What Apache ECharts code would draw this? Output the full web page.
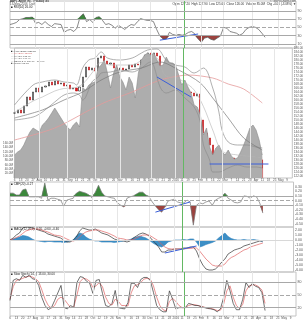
<!DOCTYPE html>
<html>
<head>
<meta charset="utf-8">
<script src="https://cdn.jsdelivr.net/npm/echarts@6/dist/echarts.min.js"></script>
<style>
html, body { margin: 0; padding: 0; background: #fff; }
#chart { width: 306px; height: 320px; }
</style>
</head>
<body>
<div id="chart"></div>
<script>
// one value per bar, bar 0 is the first day on the chart
var closes = [153.5,155,153.5,157,161.5,160,164,166,164,166.5,
  167,169,167.5,169.5,168,168.5,167,167.5,165.5,166,
  164.5,166.5,171.5,176.5,175,176,174.5,181,182,179.5,
  178,178.5,176,175,176,175,175.5,177.5,176.5,178,
  177.5,180,182.5,183.5,182,183.5,182,173.5,171,172,
  169,170.5,168,166.5,167,165,164,163.5,162,163,
  150,143.5,141,137.5,131,128.5,130,131,132.5,130,
  131,129.5,128.5,129.5,131,132,131,131.5,130.5,130,
  126];
var mountain = [132.5,134,135,137.5,141,144,146,145,144,147.5,
  149,151,153.5,156,153.5,151,148.5,146.5,145,147.5,
  149,146.5,166,165,167.5,168.5,169,176,177.5,180,
  173.5,166,173.5,177.5,171.5,169,165,171.5,168.5,161,
  173.5,180,182.5,183.5,182.5,183.5,180,177,177.5,181.5,
  178.5,178.5,177.5,172.5,167.5,170,166.5,163.5,157.5,156.5,
  152.5,142.5,146,136.5,132.5,136,137.5,134,132.5,135,
  132,130.5,131,134,137.5,141.5,146,147.5,145,140,
  132.5];
var volumes = [40,35,30,45,60,35,30,38,45,75,
  40,35,30,28,35,38,42,55,40,35,
  38,45,60,50,35,30,32,50,45,38,
  40,35,30,45,50,48,55,35,30,32,
  38,40,35,30,45,50,85,90,60,45,
  35,38,42,40,35,38,32,30,55,45,
  95,80,70,75,65,55,45,40,38,42,
  40,45,38,35,30,28,32,30,40,45,
  85];
var rsi = [57,59,62,69,71,74,74,75,60,62,
  57,64,57,52,59,58,57,38,43,45,
  40,48,76,83,64,69,62,74,76,67,
  57,59,55,48,55,50,45,52,57,55,
  64,71,69,67,67,64,45,29,22,22,
  38,33,31,33,31,33,38,40,34,22,
  14,24,26,21,19,24,29,50,48,40,
  38,36,31,35,45,50,52,50,45,36,
  26];
var cmf = [0.16,0.16,0.12,0.12,0.23,0.25,0.08,0.08,0.08,0.08,
  0.05,0.38,0.01,0.05,0.05,0.03,0.01,-0.12,0.01,0.03,
  0.05,0.16,0.2,0.18,0.16,0.12,0.05,0.18,0.33,0.18,
  0.1,0.08,0.06,0.05,-0.05,-0.1,-0.14,0.05,0.08,0.1,
  0.14,0.18,0.18,0.12,0.08,-0.03,-0.12,-0.2,-0.25,-0.14,
  -0.01,0.01,0.03,-0.03,-0.05,-0.05,0.01,-0.03,-0.53,-0.1,
  -0.05,-0.07,-0.03,-0.01,-0.1,0.01,0.05,0.08,0.16,0.05,
  0.01,-0.04,-0.05,-0.03,0.1,0.09,0.05,0.1,0.08,-0.05,
  -0.27];
var macd = [0,0.4,1.0,1.4,2.4,2.6,2.6,2.4,2.2,2.0,
  1.8,1.6,1.2,1.0,0.8,0.6,0.4,0,-0.4,-0.4,
  0,0.6,1.8,2.4,2.2,2.0,2.0,2.2,1.8,1.4,
  1.2,1.0,0.6,0.2,0,-0.1,-0.2,-0.4,-0.2,0.4,
  0.8,1.2,1.4,1.2,0.8,0,-0.6,-1.4,-2.4,-2.4,
  -2.0,-2.0,-1.8,-1.8,-1.8,-1.6,-1.6,-1.4,-1.4,-2.2,
  -3.8,-5.0,-5.8,-6.0,-6.0,-5.8,-5.2,-4.4,-3.8,-2.8,
  -2.4,-2.0,-1.8,-1.6,-1.2,-1.0,-0.8,-0.6,-0.4,-0.2,
  -0.2];
var signal = [0,0.2,0.5,0.8,1.3,1.8,2.0,2.2,2.2,2.2,
  2.0,1.8,1.6,1.3,1.0,0.9,0.8,0.5,0.2,-0.1,
  -0.2,0,0.6,1.2,1.6,1.8,1.9,2.0,2.0,1.8,
  1.6,1.4,1.1,0.8,0.4,0.3,0.2,0,0,0.1,
  0.4,0.7,1.0,1.0,1.0,0.6,0.2,-0.2,-0.9,-1.4,
  -1.7,-1.8,-1.8,-1.8,-1.8,-1.8,-1.7,-1.7,-1.6,-1.6,
  -2.2,-3.0,-3.8,-4.4,-5.0,-5.2,-5.2,-5.2,-4.8,-4.0,
  -3.5,-3.2,-2.8,-2.4,-2.0,-1.8,-1.4,-1.2,-1.0,-0.8,
  -0.6];
var hist = [0,0.2,0.4,0.6,0.9,0.8,0.6,0.2,-0.1,-0.2,
  -0.3,-0.4,-0.3,-0.3,-0.4,-0.4,-0.4,-0.5,-0.4,-0.2,
  0,0.8,1.4,1.2,0.6,0.2,0,-0.2,-0.2,-0.4,
  -0.4,-0.4,-0.4,-0.5,-0.4,-0.3,-0.2,-0.1,0.1,0.4,
  0.6,0.8,0.6,0.4,0,-0.5,-0.9,-1.2,-1.4,-1.0,
  -0.4,-0.2,0,0,0,0.1,0,0.2,0.2,-0.4,
  -1.4,-1.2,-0.9,-0.7,-0.5,-0.2,0.4,0.9,1.4,0.7,
  0.3,0.1,0,0,0.1,0,0,0.1,0,-0.1,
  -0.4];
var stochK = [37,85,89,85,97,92,97,89,87,73,
  44,25,15,20,37,55,73,20,17,25,
  20,80,94,92,83,78,54,85,87,54,
  25,22,30,61,20,18,17,32,78,78,
  68,87,92,92,85,56,25,15,10,10,
  60,40,17,20,20,20,30,28,25,25,
  22,20,18,17,15,10,17,44,85,60,
  30,15,15,40,80,68,78,71,68,56,
  13];
var stochD = [40,70,85,87,90,93,95,93,89,82,
  62,40,25,19,25,40,45,40,30,20,
  21,50,82,90,88,83,68,72,80,70,
  45,30,26,40,35,25,25,24,55,72,
  75,80,88,90,88,72,45,25,15,12,
  35,42,35,25,20,20,25,27,27,25,
  23,21,19,18,16,13,14,28,60,72,
  45,25,18,28,60,72,74,74,70,62,
  30];

// overlays read at a few days only: [day, value]
var bbUpper = [[0,157.5],[6,167.5],[9,169],[13,170],[16,169],[19,168.5],[20,167.5],[22,176],[24,180],[26,181],[28,184],[30,181],[34,180],[38,181],[41,183.5],[43,185],[46,185.5],[49,180],[52,177.5],[55,176.5],[58,173.5],[61,176],[64,166],[66,154],[67,145],[69,139],[72,137.5],[75,137.5],[78,136.5],[80,136]];
var bbLower = [[0,150],[6,151.5],[9,154],[13,159],[16,162.5],[19,163.5],[21,162.5],[22,160],[23,161.5],[25,169],[27,171.5],[28,173.5],[31,174],[34,175],[38,174],[41,176],[44,179],[45,177],[47,166.5],[49,163.5],[52,165],[55,161],[58,156.5],[60,149],[61,137.5],[63,130],[64,124],[66,124],[69,126],[72,127.5],[75,126.5],[78,126.5],[80,126]];
var ma20 = [[0,153.75],[6,159.5],[9,161.5],[13,164.5],[16,165.75],[19,166],[22,168],[25,173.5],[28,178.75],[31,177.5],[34,177.5],[38,177.5],[41,179.75],[44,181.5],[46,181],[49,171.75],[52,171.25],[55,168.75],[58,165],[61,156.75],[64,145],[67,134.5],[72,132.5],[75,132],[78,131.5],[80,131]];
var ma50 = [[0,151],[9,155],[16,160],[22,164],[28,170],[34,174],[41,176],[47,179],[53,175],[60,168.5],[64,161],[69,151],[74,141],[80,135]];
var ma200 = [[0,140],[13,146],[28,158],[38,164],[47,170],[53,172],[56,172.5],[64,171],[69,168],[74,165.5],[80,158.5]];

// hand drawn trend lines
var priceTrend = [[46,171.5],[57,161.5]];
var priceSupport = [[63,128],[82,128]];
var rsiTrend = [[47,19],[59,34]];
var cmfTrend = [[46,-0.25],[57,-0.03]];
var macdTrend = [[49,-2.6],[59,-1.2]];

var tickDays = [0,2,4,6,8,10,12,14,16,18,20,22,24,26,28,30,32,34,36,38,40,42,44,46,48,50,52,54,56,58,60,62,64,66,68,70,72,74,76,78,80,82,84,86,88];
var tickLabels = ["6","13","20","27","Aug","10","17","24","31","Sep","14","21","28","Oct","12","19","26","Nov","9","16","23","30","Dec","14","21","28","2016","11","19","25","Feb","8","16","22","Mar","7","14","21","28","Apr","11","18","25","May","9"];
var monthDays = [8, 17, 26, 34, 44, 52, 60, 67, 76, 84];
var markDay = 54.6;

var priceTicks = [122,124,126,128,130,132,134,136,138,140,142,144,146,148,150,152,154,156,158,160,162,164,166,168,170,172,174,176,178,180,182,184,186];
var volTicks = [20,40,60,80,100,120,140,160];
var rsiTicks = [10,30,50,70,90];
var cmfTicks = [-0.5,-0.4,-0.3,-0.2,-0.1,0,0.1,0.2,0.3];
var macdTicks = [-6,-5,-4,-3,-2,-1,0,1,2];
var stochTicks = [20,50,80];

var FONT = 'Liberation Sans';
var chart = echarts.init(document.getElementById('chart'));

function pts(arr) {
  return arr.map(function (v, i) { return [i, v]; });
}
function last(arr) { return arr[arr.length - 1]; }

var candles = closes.map(function (c, i) {
  var o = i ? closes[i - 1] : c;
  return [i, o, c, Math.min(o, c), Math.max(o, c)];
});

function vlines() {
  var d = monthDays.map(function (m) {
    return { xAxis: m, lineStyle: { color: '#e6e6e6', width: 1, type: 'solid' } };
  });
  d.push({ xAxis: markDay, lineStyle: { color: '#63b863', width: 1, type: 'solid' } });
  return d;
}
function hline(v, dashed, color) {
  return { yAxis: v, lineStyle: { color: color || '#a8a8a8', width: 1, type: dashed ? 'dashed' : 'solid' } };
}
function tag(v, color) {
  return {
    yAxis: v, lineStyle: { opacity: 0 },
    label: { show: true, position: 'end', distance: 1, formatter: v.toFixed(2), fontSize: 3.5, fontFamily: FONT,
      color: color, backgroundColor: '#fff', borderColor: color, borderWidth: 0.5, padding: [0, 1] }
  };
}
function marks(data) {
  return { silent: true, symbol: 'none', animation: false, label: { show: false }, data: data };
}
function txt(x, y, s, color, align, size) {
  return { type: 'text', x: x, y: y, silent: true,
    style: { text: s, fill: color || '#333', fontSize: size || 3, fontFamily: FONT, align: align || 'left', verticalAlign: 'top' } };
}

var gridTops = [1, 48, 182, 227, 272];
var gridHeights = [47, 130, 45, 45, 44];
var grids = gridTops.map(function (t, i) {
  return { left: 10, right: 10, top: t, height: gridHeights[i], show: true, borderColor: '#c4c4c4', borderWidth: 1 };
});

var xAxes = grids.map(function (g, i) {
  return {
    type: 'value', gridIndex: i, min: 0, max: 89.7,
    axisLine: { show: false }, axisTick: { show: false }, splitLine: { show: false },
    axisLabel: {
      show: i === 1 || i === 4, customValues: tickDays, margin: 1, fontSize: 3, fontFamily: FONT, color: '#555',
      formatter: function (v) { return tickLabels[Math.round(v / 2)] || ''; }
    }
  };
});

function yAx(grid, min, max, ticks, pos, fmt, size) {
  return {
    type: 'value', gridIndex: grid, min: min, max: max, position: pos || 'right',
    axisLine: { show: false }, axisTick: { show: false }, splitLine: { show: false },
    axisLabel: { customValues: ticks, margin: 1.5, fontSize: size || 3.5, fontFamily: FONT, color: '#555', formatter: fmt }
  };
}

var yAxes = [
  yAx(0, 0, 114, rsiTicks),
  yAx(1, 121, 186, priceTicks, 'right', function (v) { return v.toFixed(2); }, 3),
  yAx(1, 0, 600, volTicks, 'left', function (v) { return v.toFixed(1) + 'M'; }, 3),
  yAx(2, -0.57, 0.4, cmfTicks, 'right', function (v) { return v.toFixed(2); }),
  yAx(3, -6.4, 2.6, macdTicks, 'right', function (v) { return v.toFixed(2); }),
  yAx(4, 0, 105, stochTicks)
];

function line(name, xi, yi, data, color, width, extra) {
  var s = {
    name: name, type: 'line', xAxisIndex: xi, yAxisIndex: yi, data: data,
    symbol: 'none', silent: true, animation: false,
    lineStyle: { color: color, width: width }
  };
  for (var k in extra) s[k] = extra[k];
  return s;
}

var series = [
  // RSI panel
  line('rsiHi', 0, 0, pts(rsi.map(function (v) { return Math.max(v, 70); })), '#3b873b', 0,
    { areaStyle: { color: '#3b873b', origin: 70, opacity: 1 }, lineStyle: { opacity: 0 } }),
  line('rsiLo', 0, 0, pts(rsi.map(function (v) { return Math.min(v, 30); })), '#9c423e', 0,
    { areaStyle: { color: '#9c423e', origin: 30, opacity: 1 }, lineStyle: { opacity: 0 } }),
  line('RSI', 0, 0, pts(rsi), '#555', 0.7, {
    markLine: marks(vlines().concat([hline(10), hline(30), hline(50, true), hline(70), hline(90), tag(last(rsi), '#000')]))
  }),
  line('rsiTrend', 0, 0, rsiTrend, '#3a5fd9', 1),

  // price panel
  line('mountain', 1, 1, pts(mountain), '#8c8c8c', 0.6, {
    areaStyle: { color: '#adadad', origin: 'start', opacity: 1 },
    markLine: marks(vlines().concat([tag(last(closes), '#000'), tag(last(ma200)[1], '#d46a6a')]))
  }),
  {
    name: 'Volume', type: 'bar', xAxisIndex: 1, yAxisIndex: 2, data: pts(volumes), barWidth: 1.6,
    silent: true, animation: false,
    itemStyle: {
      color: function (p) {
        var i = p.dataIndex;
        return i && closes[i] < closes[i - 1] ? '#e07474' : '#8f8f8f';
      }
    }
  },
  line('ma200', 1, 1, ma200, '#e49a9a', 0.8, { smooth: 0.3 }),
  line('bbUpper', 1, 1, bbUpper, '#8e8e8e', 0.7, { smooth: 0.35 }),
  line('bbLower', 1, 1, bbLower, '#8e8e8e', 0.7, { smooth: 0.35 }),
  line('ma20', 1, 1, ma20, '#b4b4b4', 0.6, { smooth: 0.35 }),
  line('ma50', 1, 1, ma50, '#7a7a7a', 0.7, { smooth: 0.3 }),
  {
    name: 'AAPL', type: 'candlestick', xAxisIndex: 1, yAxisIndex: 1, data: candles,
    encode: { x: 0, y: [1, 2, 3, 4] }, barWidth: 1.6, silent: true, animation: false,
    itemStyle: { color: '#fff', color0: '#e3161b', borderColor: '#111', borderColor0: '#b80d10', borderWidth: 0.6 }
  },
  line('priceTrend', 1, 1, priceTrend, '#3a5fd9', 1),
  line('priceSupport', 1, 1, priceSupport, '#3a5fd9', 1),

  // CMF panel
  line('cmfHi', 2, 3, pts(cmf.map(function (v) { return Math.max(v, 0.1); })), '#3b873b', 0,
    { areaStyle: { color: '#3b873b', origin: 0.1, opacity: 1 }, lineStyle: { opacity: 0 } }),
  line('cmfLo', 2, 3, pts(cmf.map(function (v) { return Math.min(v, -0.1); })), '#9c423e', 0,
    { areaStyle: { color: '#9c423e', origin: -0.1, opacity: 1 }, lineStyle: { opacity: 0 } }),
  line('CMF', 2, 3, pts(cmf), '#777', 0.7, {
    markLine: marks(vlines().concat([hline(0.1), hline(0, true), hline(-0.1), tag(last(cmf), '#000')]))
  }),
  line('cmfTrend', 2, 3, cmfTrend, '#3a5fd9', 1),

  // MACD panel
  line('Hist', 3, 4, pts(hist), '#2f7fba', 0.6, {
    areaStyle: { color: '#3d8fc6', origin: 0, opacity: 1 },
    markLine: marks(vlines().concat([hline(0, false, '#d8d8d8'), tag(last(macd), '#000'), tag(last(signal), '#d05a5a')]))
  }),
  line('MACD', 3, 4, pts(macd), '#333', 0.7),
  line('Signal', 3, 4, pts(signal), '#e06262', 0.7),
  line('macdTrend', 3, 4, macdTrend, '#3a5fd9', 1),

  // slow stochastic panel
  line('%D', 4, 5, pts(stochD), '#e06262', 0.7, {
    markLine: marks(vlines().concat([hline(20), hline(50, true), hline(80), tag(last(stochK), '#000'), tag(last(stochD), '#d05a5a')]))
  }),
  line('%K', 4, 5, pts(stochK), '#333', 0.7)
];

var graphic = [
  txt(10, 0, 'AAPL Apple Inc.  Nasdaq GS', '#111'),
  txt(10, 3, '13-May-2016  Daily', '#555'),
  txt(296, 0, '© StockCharts.com', '#555', 'right'),
  txt(296, 3, 'Open 127.20  High 127.90  Low 125.60  Close 126.00  Volume 85.0M  Chg -4.00 (-3.08%) ▼', '#333', 'right'),
  txt(11, 6, '■ RSI(14) ' + last(rsi).toFixed(2), '#222'),
  txt(11, 49.5, '■ AAPL (Daily) ' + last(closes).toFixed(2), '#222', 'left', 2.5),
  txt(11, 52, '— MA(200) ' + last(ma200)[1].toFixed(2), '#d46a6a', 'left', 2.5),
  txt(11, 54.5, '— MA(50) ' + last(ma50)[1].toFixed(2), '#555', 'left', 2.5),
  txt(11, 57, '— MA(20) ' + last(ma20)[1].toFixed(2), '#777', 'left', 2.5),
  txt(11, 59.5, '— BB(20,2.0) ' + last(bbLower)[1].toFixed(2) + ' - ' + last(bbUpper)[1].toFixed(2), '#555', 'left', 2.5),
  txt(11, 62, '■ Volume ' + last(volumes).toFixed(1) + 'M', '#555', 'left', 2.5),
  txt(11, 183, '■ CMF(20) ' + last(cmf).toFixed(2), '#222'),
  txt(11, 228, '■ MACD(12,26,9) ' + last(macd).toFixed(2) + ', ' + last(signal).toFixed(2) + ', ' + last(hist).toFixed(2), '#222'),
  txt(11, 273, '■ Slow Stoch (14,3) ' + last(stochK).toFixed(2) + ', ' + last(stochD).toFixed(2), '#222')
];

chart.setOption({
  animation: false,
  backgroundColor: '#fff',
  textStyle: { fontFamily: FONT },
  grid: grids,
  xAxis: xAxes,
  yAxis: yAxes,
  series: series,
  graphic: graphic
});
</script>
</body>
</html>
